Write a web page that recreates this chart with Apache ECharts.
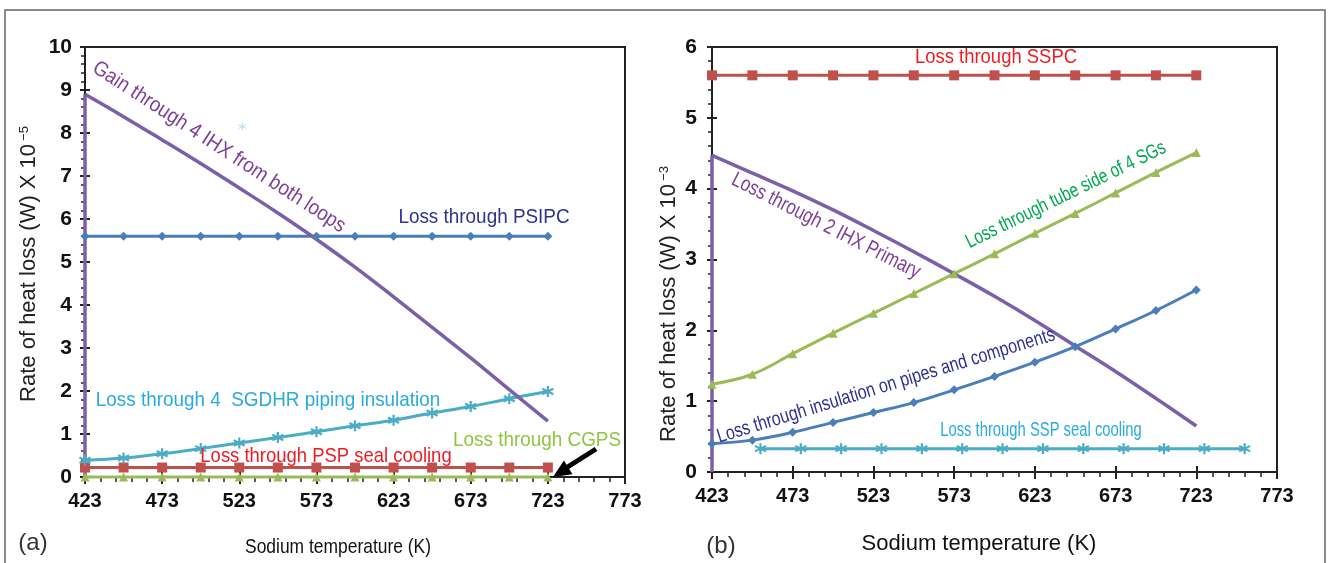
<!DOCTYPE html>
<html>
<head>
<meta charset="utf-8">
<script src="https://cdn.jsdelivr.net/npm/echarts@6/dist/echarts.min.js"></script>
<style>
  html, body { margin: 0; padding: 0; background: #fff; }
  #chart { width: 1330px; height: 563px; }
</style>
</head>
<body>
<div id="chart"></div>
<script>
  // ---- panel (a): primary side, W x 10^-5 ----
  var tempA = [423, 448, 473, 498, 523, 548, 573, 598, 623, 648, 673, 698, 723];
  var lossPSIPC = [5.6, 5.6, 5.6, 5.6, 5.6, 5.6, 5.6, 5.6, 5.6, 5.6, 5.6, 5.6, 5.6];
  var gainIHX4 = [8.9, 8.38, 7.84, 7.29, 6.72, 6.14, 5.53, 4.88, 4.19, 3.48, 2.77, 2.03, 1.3];
  var lossSGDHR = [0.39, 0.44, 0.54, 0.66, 0.79, 0.92, 1.05, 1.19, 1.32, 1.49, 1.64, 1.82, 1.99];
  var lossPSPSeal = [0.22, 0.22, 0.22, 0.22, 0.22, 0.22, 0.22, 0.22, 0.22, 0.22, 0.22, 0.22, 0.22];
  var lossCGPS = [0, 0, 0, 0, 0, 0, 0, 0, 0, 0, 0, 0, 0];
  var strayTemp = [525];
  var strayVal = [8.15];

  // ---- panel (b): secondary side, W x 10^-3 ----
  var tempB = [423, 448, 473, 498, 523, 548, 573, 598, 623, 648, 673, 698, 723];
  var tempSSPSeal = [453, 478, 503, 528, 553, 578, 603, 628, 653, 678, 703, 728, 753];
  var lossSSPC = [5.6, 5.6, 5.6, 5.6, 5.6, 5.6, 5.6, 5.6, 5.6, 5.6, 5.6, 5.6, 5.6];
  var lossIHX2 = [4.47, 4.22, 3.97, 3.7, 3.41, 3.11, 2.8, 2.48, 2.14, 1.78, 1.42, 1.04, 0.65];
  var lossSGTube = [1.24, 1.38, 1.67, 1.96, 2.24, 2.52, 2.8, 3.08, 3.37, 3.65, 3.94, 4.23, 4.51];
  var lossInsul = [0.4, 0.45, 0.56, 0.7, 0.84, 0.98, 1.16, 1.35, 1.55, 1.77, 2.02, 2.28, 2.57];
  var lossSSPSeal = [0.33, 0.33, 0.33, 0.33, 0.33, 0.33, 0.33, 0.33, 0.33, 0.33, 0.33, 0.33, 0.33];

  var xTicks = [423, 773, 50];   // min, max, step
  var yTicksA = [0, 10, 1];
  var yTicksB = [0, 6, 1];

  function pairs(xs, ys) {
    return xs.map(function (x, i) { return [x, ys[i]]; });
  }

  var BLUE = '#4a7ebb', PURPLE = '#7b5fa8', RED = '#c0504d', GREEN = '#9bbb59', CYAN = '#4bacc6';
  var AXIS = '#222';
  var LBL_FONT = '"Liberation Sans", Arial, sans-serif';
  var TXT_FONT = '"Liberation Sans", Arial, sans-serif';
  var asterisk = 'path://M5,0L5,10M0.7,2.5L9.3,7.5M9.3,2.5L0.7,7.5';

  // main axis: labels + outside ticks + minor ticks
  function xMain(grid) {
    return {
      gridIndex: grid, type: 'value', position: 'bottom',
      min: xTicks[0], max: xTicks[1], interval: xTicks[2],
      axisLine: { lineStyle: { color: AXIS, width: 2 } },
      axisTick: { length: 7, lineStyle: { color: AXIS, width: 2 } },
      minorTick: { show: true, splitNumber: 5, length: 5, lineStyle: { color: AXIS, width: 1.5 } },
      splitLine: { show: false },
      axisLabel: { margin: 14, color: '#111', fontSize: 20, fontWeight: 'bold', fontFamily: LBL_FONT }
    };
  }
  // second copy only for the inner half of the major ticks
  function xInner(grid) {
    return {
      gridIndex: grid, type: 'value', position: 'bottom', offset: 0,
      min: xTicks[0], max: xTicks[1], interval: xTicks[2],
      axisLine: { show: false },
      axisTick: { inside: true, length: 6, lineStyle: { color: AXIS, width: 2 } },
      splitLine: { show: false }, axisLabel: { show: false }
    };
  }
  function yMain(grid, t, margin) {
    return {
      gridIndex: grid, type: 'value', position: 'left',
      min: t[0], max: t[1], interval: t[2],
      axisLine: { show: true, lineStyle: { color: AXIS, width: 2 } },
      axisTick: { show: true, length: 5, lineStyle: { color: AXIS, width: 2 } },
      minorTick: { show: true, splitNumber: 5, length: 4, lineStyle: { color: AXIS, width: 1.5 } },
      splitLine: { show: false },
      axisLabel: { margin: margin, color: '#111', fontSize: 21, fontWeight: 'bold', fontFamily: LBL_FONT }
    };
  }
  function yInner(grid, t) {
    return {
      gridIndex: grid, type: 'value', position: 'left', offset: 0,
      min: t[0], max: t[1], interval: t[2],
      axisLine: { show: false },
      axisTick: { show: true, inside: true, length: 5, lineStyle: { color: AXIS, width: 2 } },
      splitLine: { show: false }, axisLabel: { show: false }
    };
  }

  function lineSeries(xi, yi, data, color, symbol, size, smooth, width) {
    return {
      type: 'line', xAxisIndex: xi, yAxisIndex: yi, data: data,
      smooth: smooth, clip: false, silent: true,
      lineStyle: { color: color, width: width || 3 },
      symbol: symbol, symbolSize: size, showSymbol: symbol !== 'none',
      itemStyle: symbol === asterisk
        ? { color: color, borderColor: color, borderWidth: 2.2 }
        : { color: color }
    };
  }

  function txt(x, y, s, color, size, rot, sx, extra) {
    var el = {
      type: 'text', x: x, y: y, rotation: (rot || 0) * Math.PI / 180,
      scaleX: sx || 1, z: 100,
      style: {
        text: s, fill: color, fontSize: size, fontFamily: TXT_FONT,
        align: 'center', verticalAlign: 'middle'
      }
    };
    if (extra) { for (var k in extra) el.style[k] = extra[k]; }
    return el;
  }

  var supRich = { s: { fontSize: 13, verticalAlign: 'top', padding: [0, 0, 0, 3], fontFamily: TXT_FONT, fill: '#222' } };

  var chart = echarts.init(document.getElementById('chart'));
  var option = {
    animation: false,
    backgroundColor: '#fff',
    grid: [
      { left: 85, top: 47, right: 705, bottom: 86, show: true, borderColor: AXIS, borderWidth: 2, backgroundColor: 'transparent' },
      { left: 712, top: 47, right: 53, bottom: 91, show: true, borderColor: AXIS, borderWidth: 2, backgroundColor: 'transparent' }
    ],
    xAxis: [xMain(0), xInner(0), xMain(1), xInner(1)],
    yAxis: [yMain(0, yTicksA, 13), yInner(0, yTicksA), yMain(1, yTicksB, 15), yInner(1, yTicksB)],
    series: [
      // (a)
      lineSeries(0, 0, pairs(tempA, lossCGPS), GREEN, 'triangle', 9, false),
      lineSeries(0, 0, pairs(tempA, lossPSPSeal), RED, 'rect', 10, false),
      lineSeries(0, 0, pairs(tempA, lossSGDHR), CYAN, asterisk, 11, 0.4),
      lineSeries(0, 0, pairs(tempA, lossPSIPC), BLUE, 'diamond', 9, false),
      lineSeries(0, 0, [[tempA[0], 0], [tempA[0], gainIHX4[0]]], PURPLE, 'none', 0, false, 3.5),
      lineSeries(0, 0, pairs(tempA, gainIHX4), PURPLE, 'none', 0, 0.4, 3.5),
      {
        type: 'scatter', xAxisIndex: 0, yAxisIndex: 0, data: pairs(strayTemp, strayVal),
        symbol: asterisk, symbolSize: 8, silent: true,
        itemStyle: { color: '#9fd6e3', borderColor: '#9fd6e3', borderWidth: 1 }
      },
      // (b)
      lineSeries(2, 2, pairs(tempB, lossSSPC), RED, 'rect', 10, false),
      lineSeries(2, 2, pairs(tempSSPSeal, lossSSPSeal), CYAN, asterisk, 11, false),
      lineSeries(2, 2, pairs(tempB, lossInsul), BLUE, 'diamond', 9, 0.4),
      lineSeries(2, 2, pairs(tempB, lossSGTube), GREEN, 'triangle', 9, 0.4),
      lineSeries(2, 2, [[tempB[0], 0], [tempB[0], lossIHX2[0]]], PURPLE, 'none', 0, false, 3.5),
      lineSeries(2, 2, pairs(tempB, lossIHX2), PURPLE, 'none', 0, 0.4, 3.5)
    ],
    graphic: [
      // outer frame
      { type: 'rect', shape: { x: 5, y: 10, width: 1320, height: 570 }, style: { fill: 'none', stroke: '#666', lineWidth: 1.5 }, z: 0 },
      // panel (a) annotations
      txt(219, 147, 'Gain through 4 IHX from both loops', '#7e3f98', 21, -33, 0.9),
      txt(484, 217, 'Loss through PSIPC', '#2e3192', 21, 0, 0.9),
      txt(268, 400, 'Loss through 4  SGDHR piping insulation', '#29abe2', 21, 0, 0.9),
      txt(326, 456, 'Loss through PSP seal cooling', '#ed1c24', 20.5, 0, 0.9),
      txt(537, 440, 'Loss through CGPS', '#8dc63f', 21, 0, 0.9),
      { type: 'line', shape: { x1: 566, y1: 468, x2: 596, y2: 449 }, style: { stroke: '#000', lineWidth: 5 }, z: 100 },
      { type: 'polygon', shape: { points: [[553, 477], [572.5, 474.2], [563.9, 460.6]] }, style: { fill: '#000' }, z: 100 },
      txt(33, 543, '(a)', '#333', 24, 0, 1),
      txt(338, 547, 'Sodium temperature (K)', '#111', 21, 0, 0.83),
      txt(29, 264, 'Rate of heat loss (W) X 10{s|−5}', '#222', 22, 90, 1, { rich: supRich }),
      // panel (b) annotations
      txt(996, 57, 'Loss through SSPC', '#ed1c24', 20.5, 0, 0.9),
      txt(826, 226, 'Loss through 2 IHX Primary', '#7e3f98', 21, -27, 0.81),
      txt(1066, 195, 'Loss through tube side of 4 SGs', '#00a651', 20, 26, 0.77),
      txt(886, 386, 'Loss through insulation on pipes and components', '#2e3192', 20, 17, 0.8),
      txt(1041, 430, 'Loss through SSP seal cooling', '#29abe2', 20, 0, 0.74),
      txt(721, 546, '(b)', '#333', 24, 0, 1),
      txt(979, 544, 'Sodium temperature (K)', '#111', 22, 0, 1),
      txt(669, 304, 'Rate of heat loss (W) X 10{s|−3}', '#222', 22, 90, 1, { rich: supRich })
    ]
  };
  chart.setOption(option);
</script>
</body>
</html>
